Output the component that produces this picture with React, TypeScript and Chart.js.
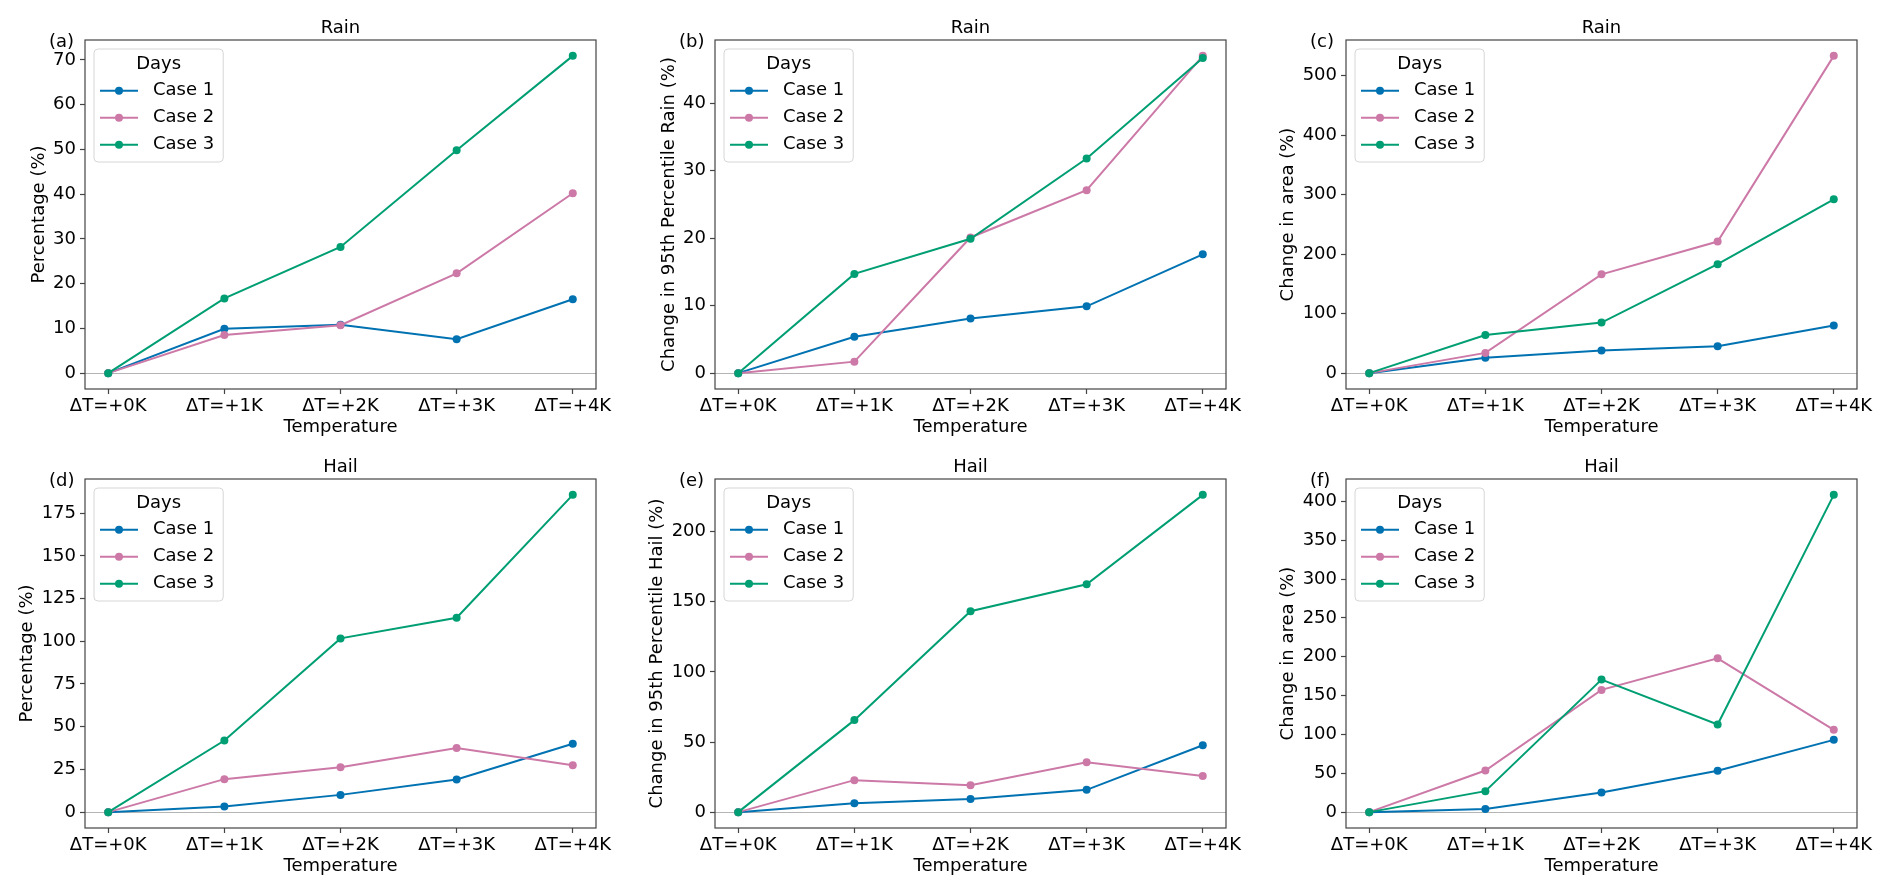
import React, { useEffect, useRef } from 'react';
import { Chart, registerables } from 'chart.js';

Chart.register(...registerables);

const FONT = '"DejaVu Sans", "Liberation Sans", sans-serif';

// ---- data ----
const categories = ['ΔT=+0K', 'ΔT=+1K', 'ΔT=+2K', 'ΔT=+3K', 'ΔT=+4K'];
const seriesNames = ['Case 1', 'Case 2', 'Case 3'];
const seriesColors = ['#0072B2', '#CC79A7', '#009E73'];
const legendTitle = 'Days';
const xAxisTitle = 'Temperature';

// (a) Rain – percentage
const rainPctCase1 = [0, 9.9, 10.8, 7.6, 16.5];
const rainPctCase2 = [0, 8.5, 10.7, 22.3, 40.2];
const rainPctCase3 = [0, 16.7, 28.2, 49.8, 70.9];

// (b) Rain – change in 95th percentile
const rainP95Case1 = [0, 5.4, 8.1, 9.9, 17.6];
const rainP95Case2 = [0, 1.7, 20.1, 27.1, 47.0];
const rainP95Case3 = [0, 14.7, 19.9, 31.8, 46.7];

// (c) Rain – change in area
const rainAreaCase1 = [0, 26, 38, 45, 80];
const rainAreaCase2 = [0, 34, 166, 221, 533];
const rainAreaCase3 = [0, 64, 85, 183, 292];

// (d) Hail – percentage
const hailPctCase1 = [0, 3.3, 10.1, 19.1, 40.0];
const hailPctCase2 = [0, 19.3, 26.3, 37.6, 27.5];
const hailPctCase3 = [0, 41.9, 101.7, 113.8, 185.7];

// (e) Hail – change in 95th percentile
const hailP95Case1 = [0, 6.4, 9.3, 15.9, 47.7];
const hailP95Case2 = [0, 22.8, 19.2, 35.6, 25.7];
const hailP95Case3 = [0, 65.6, 143.2, 162.5, 226.2];

// (f) Hail – change in area
const hailAreaCase1 = [0, 3.9, 25.3, 53.2, 93.0];
const hailAreaCase2 = [0, 53.6, 157.3, 198.0, 105.9];
const hailAreaCase3 = [0, 27.0, 170.6, 112.8, 408.3];

const panelLetters = ['(a)', '(b)', '(c)', '(d)', '(e)', '(f)'];
const panelTitles = ['Rain', 'Rain', 'Rain', 'Hail', 'Hail', 'Hail'];
const yAxisTitles = [
  'Percentage (%)',
  'Change in 95th Percentile Rain (%)',
  'Change in area (%)',
  'Percentage (%)',
  'Change in 95th Percentile Hail (%)',
  'Change in area (%)',
];
const yTickSteps = [10, 10, 100, 25, 50, 50];

const panelSeries = [
  [rainPctCase1, rainPctCase2, rainPctCase3],
  [rainP95Case1, rainP95Case2, rainP95Case3],
  [rainAreaCase1, rainAreaCase2, rainAreaCase3],
  [hailPctCase1, hailPctCase2, hailPctCase3],
  [hailP95Case1, hailP95Case2, hailP95Case3],
  [hailAreaCase1, hailAreaCase2, hailAreaCase3],
];

// ---- layout ----
const CANVAS_W = 630;
const CANVAS_H = 439;
const COL_LEFT = [0, 630, 1261];
const ROW_TOP = [0, 439];

const decorPlugin = {
  id: 'decor',
  afterDraw(chart: any, _args: any, opts: any) {
    const ctx = chart.ctx as CanvasRenderingContext2D;
    const a = chart.chartArea;
    ctx.save();
    // frame
    ctx.strokeStyle = '#444';
    ctx.lineWidth = 1.2;
    ctx.strokeRect(a.left, a.top, a.right - a.left, a.bottom - a.top);

    ctx.fillStyle = '#000';
    ctx.font = `18px ${FONT}`;
    // title
    ctx.textAlign = 'center';
    ctx.textBaseline = 'alphabetic';
    ctx.fillText(opts.title, (a.left + a.right) / 2, a.top - 7);
    // panel letter
    ctx.textAlign = 'left';
    ctx.textBaseline = 'middle';
    ctx.fillText(opts.letter, a.left - 36, a.top + 2);
    // x title
    ctx.textAlign = 'center';
    ctx.fillText(opts.xTitle, (a.left + a.right) / 2, a.bottom + 38);
    // y title
    const yScale = chart.scales.y;
    let maxW = 0;
    yScale.ticks.forEach((t: any) => {
      maxW = Math.max(maxW, ctx.measureText(String(t.label)).width);
    });
    const cx = a.left - 9 - maxW - 14;
    ctx.save();
    ctx.translate(cx, (a.top + a.bottom) / 2);
    ctx.rotate(-Math.PI / 2);
    ctx.fillText(opts.yTitle, 0, 0);
    ctx.restore();

    // legend
    const bx = a.left + 9;
    const by = a.top + 9;
    const ds = chart.data.datasets;
    let tw = 0;
    ds.forEach((d: any) => {
      tw = Math.max(tw, ctx.measureText(d.label).width);
    });
    const bw = 59 + tw + 9;
    const bh = 113;
    const r = 4;
    ctx.beginPath();
    ctx.moveTo(bx + r, by);
    ctx.lineTo(bx + bw - r, by);
    ctx.arcTo(bx + bw, by, bx + bw, by + r, r);
    ctx.lineTo(bx + bw, by + bh - r);
    ctx.arcTo(bx + bw, by + bh, bx + bw - r, by + bh, r);
    ctx.lineTo(bx + r, by + bh);
    ctx.arcTo(bx, by + bh, bx, by + bh - r, r);
    ctx.lineTo(bx, by + r);
    ctx.arcTo(bx, by, bx + r, by, r);
    ctx.closePath();
    ctx.fillStyle = 'rgba(255,255,255,0.8)';
    ctx.fill();
    ctx.strokeStyle = '#d6d6d6';
    ctx.lineWidth = 1;
    ctx.stroke();

    ctx.fillStyle = '#000';
    ctx.textAlign = 'center';
    ctx.textBaseline = 'middle';
    ctx.fillText(opts.legendTitle, bx + bw / 2, by + 15);
    ds.forEach((d: any, i: number) => {
      const y = by + 41.7 + i * 27;
      ctx.strokeStyle = d.borderColor;
      ctx.lineWidth = 2;
      ctx.beginPath();
      ctx.moveTo(bx + 6, y);
      ctx.lineTo(bx + 44, y);
      ctx.stroke();
      ctx.fillStyle = d.borderColor;
      ctx.beginPath();
      ctx.arc(bx + 25, y, 4, 0, Math.PI * 2);
      ctx.fill();
      ctx.fillStyle = '#000';
      ctx.textAlign = 'left';
      ctx.fillText(d.label, bx + 59, y);
    });
    ctx.restore();
  },
};

function Panel({ index }: { index: number }) {
  const ref = useRef<HTMLCanvasElement>(null);
  const col = index % 3;
  const row = Math.floor(index / 3);

  useEffect(() => {
    const series = panelSeries[index];
    const all = series.flat();
    const mn = Math.min(...all);
    const mx = Math.max(...all);
    const rng = mx - mn;
    const step = yTickSteps[index];
    const font = { size: 18, family: FONT };
    const chart = new Chart(ref.current as HTMLCanvasElement, {
      type: 'line',
      data: {
        datasets: series.map((vals, i) => ({
          label: seriesNames[i],
          data: vals.map((v, j) => ({ x: j, y: v })),
          borderColor: seriesColors[i],
          backgroundColor: seriesColors[i],
          pointBackgroundColor: seriesColors[i],
          pointBorderColor: seriesColors[i],
          pointBorderWidth: 0,
          pointRadius: 4,
          borderWidth: 2,
          tension: 0,
          order: 3 - i,
        })),
      },
      options: {
        responsive: false,
        animation: false,
        events: [],
        layout: { padding: { top: 40, right: 34, left: 0, bottom: 0 } },
        plugins: {
          legend: { display: false },
          tooltip: { enabled: false },
          title: { display: false },
          decor: {
            title: panelTitles[index],
            letter: panelLetters[index],
            xTitle: xAxisTitle,
            yTitle: yAxisTitles[index],
            legendTitle,
          },
        } as any,
        scales: {
          x: {
            type: 'linear',
            min: -0.2,
            max: 4.2,
            afterFit(s: any) {
              s.height = 50;
            },
            afterBuildTicks(s: any) {
              s.ticks = categories.map((_, j) => ({ value: j }));
            },
            ticks: {
              autoSkip: false,
              maxRotation: 0,
              minRotation: 0,
              color: '#000',
              font,
              padding: 2,
              callback: (v: any) => (categories[v] !== undefined ? categories[v] : ''),
            },
            grid: { drawOnChartArea: false, drawTicks: true, tickLength: 5, tickColor: '#444', tickWidth: 1.2 },
            border: { display: false },
          },
          y: {
            type: 'linear',
            min: mn - 0.05 * rng,
            max: mx + 0.05 * rng,
            afterFit(s: any) {
              s.width = 85;
            },
            afterBuildTicks(s: any) {
              const ticks: { value: number }[] = [];
              for (let v = Math.ceil(s.min / step) * step; v <= s.max + 1e-9; v += step) {
                ticks.push({ value: v });
              }
              s.ticks = ticks;
            },
            ticks: {
              autoSkip: false,
              color: '#000',
              font,
              padding: 4,
              callback: (v: any) => String(Math.round(v)),
            },
            grid: {
              color: (c: any) => (c.tick && c.tick.value === 0 ? '#b5b5b5' : 'rgba(0,0,0,0)'),
              lineWidth: 1,
              tickColor: '#444',
              tickLength: 5,
              tickWidth: 1.2,
            },
            border: { display: false },
          },
        } as any,
      },
      plugins: [decorPlugin as any],
    });
    return () => chart.destroy();
  }, [index]);

  return (
    <canvas
      ref={ref}
      width={CANVAS_W}
      height={CANVAS_H}
      style={{ position: 'absolute', left: COL_LEFT[col], top: ROW_TOP[row], width: CANVAS_W, height: CANVAS_H }}
    />
  );
}

export default function App() {
  return (
    <div style={{ position: 'absolute', left: 0, top: 0, width: 1892, height: 896, background: '#fff' }}>
      {[0, 1, 2, 3, 4, 5].map((i) => (
        <Panel key={i} index={i} />
      ))}
    </div>
  );
}
